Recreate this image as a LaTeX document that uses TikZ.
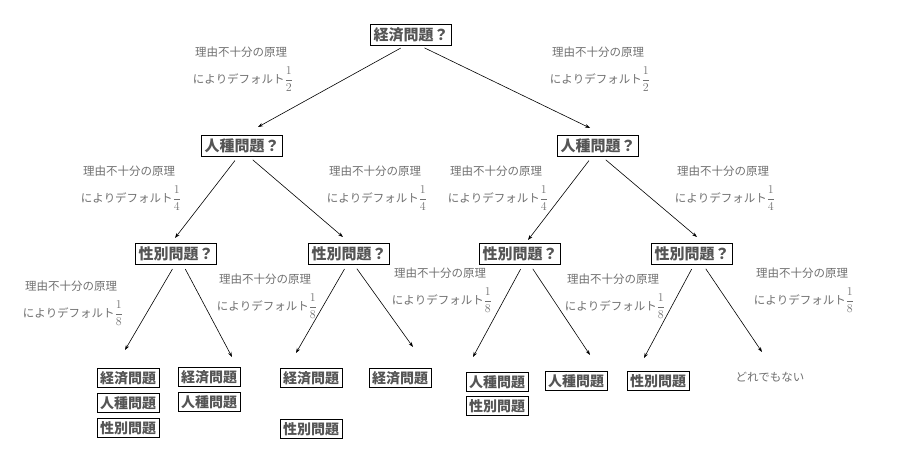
\documentclass[tikz,border=0pt]{standalone}
\usepackage{fontspec,amsmath}
\usetikzlibrary{arrows.meta}
\newfontfamily\cjk{Noto Sans CJK JP}
\definecolor{BoxGray}{HTML}{555555}
\definecolor{NoteGray}{HTML}{707070}
\tikzset{
    question/.style={rectangle, draw, line width=1pt, inner sep=3pt,
                font=\cjk\bfseries\fontsize{15}{15}\selectfont, text=BoxGray},
    answer/.style={rectangle, draw, line width=1pt, inner sep=3pt,
                font=\cjk\bfseries\fontsize{14}{14}\selectfont, text=BoxGray},
    note/.style={anchor=base, inner sep=0, font=\cjk\fontsize{11.5}{12}\selectfont, text=NoteGray},
    branch/.style={-{Stealth[length=5pt, width=3.5pt]}, line width=0.6pt, shorten <=5pt},
}
\newcommand{\noteLabel}[4]{%
    \node[note] (#1.Nu) at (#2,#3+4.5) {理由不十分の原理};
    \node[note] (#1.Nd) at (#2+2,#3+31) {によりデフォルト$\dfrac{1}{#4}$};
}

\begin{document}
\begin{tikzpicture}[x=1pt, y=-1pt]
        \useasboundingbox (0,0) rectangle (905,471);
        % Top question
        \node[question] (Q0) at (411,35) {経済問題？};
        \noteLabel{N0c1}{241}{52}{2}
        \noteLabel{N0c2}{598}{52}{2}
        \coordinate (T0c1) at (258,127);
        \coordinate (T0c2) at (590,128);
        \draw[branch] ([xshift=-6pt]Q0.south) -- (T0c1);
        \draw[branch] ([xshift=9pt]Q0.south) -- (T0c2);
        %
        %
        % Second line
        \node[question] (Q1c1) at (242,146) {人種問題？};
        \node[question] (Q1c2) at (598,146) {人種問題？};
        \noteLabel{N1c1}{129}{171}{4}
        \noteLabel{N1c2}{375}{171}{4}
        \noteLabel{N1c3}{496}{171}{4}
        \noteLabel{N1c4}{723}{171}{4}
        \coordinate (T1c1) at (175,238);
        \coordinate (T1c2) at (343,237);
        \coordinate (T1c3) at (528,240);
        \coordinate (T1c4) at (697,237);
        \draw[branch] ([xshift=-4pt]Q1c1.south) -- (T1c1);
        \draw[branch] ([xshift=7pt]Q1c1.south) -- (T1c2);
        \draw[branch] ([xshift=-6pt]Q1c2.south) -- (T1c3);
        \draw[branch] ([xshift=4pt]Q1c2.south) -- (T1c4);
        %
        %
        % Third line
        \node[question] (Q2c1) at (176,254) {性別問題？};
        \node[question] (Q2c2) at (349,254) {性別問題？};
        \node[question] (Q2c3) at (520,254) {性別問題？};
        \node[question] (Q2c4) at (692,254) {性別問題？};
        \noteLabel{N2c1}{71}{286}{8}
        \noteLabel{N2c2}{265}{279}{8}
        \noteLabel{N2c3}{440}{273}{8}
        \noteLabel{N2c4}{613}{279}{8}
        \noteLabel{N2c5}{802}{273}{8}
        \coordinate (T2c1) at (125,350);
        \coordinate (T2c2) at (232,357);
        \coordinate (T2c3) at (296,353);
        \coordinate (T2c4) at (413,347);
        \coordinate (T2c5) at (473,357);
        \coordinate (T2c6) at (590,355);
        \coordinate (T2c7) at (644,358);
        \coordinate (T2c8) at (762,352);
        \draw[branch] ([xshift=-1pt]Q2c1.south) -- (T2c1);
        \draw[branch] ([xshift=7pt]Q2c1.south) -- (T2c2);
        \draw[branch] ([xshift=-2pt]Q2c2.south) -- (T2c3);
        \draw[branch] ([xshift=5pt]Q2c2.south) -- (T2c4);
        \draw[branch] ([xshift=3pt]Q2c3.south) -- (T2c5);
        \draw[branch] ([xshift=10pt]Q2c3.south) -- (T2c6);
        \draw[branch] ([xshift=2pt]Q2c4.south) -- (T2c7);
        \draw[branch] ([xshift=11pt]Q2c4.south) -- (T2c8);
        %
        %
        % Fourth line
        \node[answer] (A1r1) at (128,378) {経済問題};
        \node[answer] (A1r2) at (128,403) {人種問題};
        \node[answer] (A1r3) at (128,428) {性別問題};
        \node[answer] (A2r1) at (209,377) {経済問題};
        \node[answer] (A2r2) at (209,402) {人種問題};
        \node[answer] (A3r1) at (311,378) {経済問題};
        \node[answer] (A3r3) at (311,429) {性別問題};
        \node[answer] (A4r1) at (400,378) {経済問題};
        \node[answer] (A5r1) at (497,382) {人種問題};
        \node[answer] (A5r2) at (497,406) {性別問題};
        \node[answer] (A6r1) at (576,381) {人種問題};
        \node[answer] (A7r1) at (658,381) {性別問題};
        \node[note] (A8r1) at (770,381) {どれでもない};
\end{tikzpicture}
\end{document}
